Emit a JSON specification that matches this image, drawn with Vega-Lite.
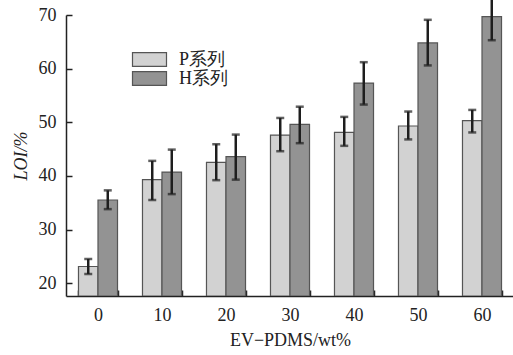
{
  "$schema": "https://vega.github.io/schema/vega-lite/v6.json",
  "autosize": {"type": "none"},
  "padding": {"left": 66, "top": 15, "right": 0, "bottom": 59},
  "width": 448,
  "height": 281,
  "background": "white",
  "config": {
    "view": {"stroke": null},
    "font": "Liberation Serif",
    "axis": {"labelFont": "Liberation Serif", "titleFont": "Liberation Serif", "labelColor": "#222", "titleColor": "#222", "domainColor": "#222", "tickColor": "#222", "domainWidth": 1.5, "tickWidth": 1.5, "grid": false}
  },
  "data": {
    "values": [
      {"c": "0", "s": "P系列", "v": 23.1, "lo": 21.7, "hi": 24.5},
      {"c": "0", "s": "H系列", "v": 35.5, "lo": 33.8, "hi": 37.3},
      {"c": "10", "s": "P系列", "v": 39.3, "lo": 35.5, "hi": 42.8},
      {"c": "10", "s": "H系列", "v": 40.7, "lo": 36.6, "hi": 44.9},
      {"c": "20", "s": "P系列", "v": 42.5, "lo": 39.2, "hi": 45.9},
      {"c": "20", "s": "H系列", "v": 43.6, "lo": 39.3, "hi": 47.7},
      {"c": "30", "s": "P系列", "v": 47.6, "lo": 44.6, "hi": 50.8},
      {"c": "30", "s": "H系列", "v": 49.6, "lo": 46.1, "hi": 52.9},
      {"c": "40", "s": "P系列", "v": 48.1, "lo": 45.6, "hi": 51.0},
      {"c": "40", "s": "H系列", "v": 57.3, "lo": 53.3, "hi": 61.2},
      {"c": "50", "s": "P系列", "v": 49.3, "lo": 46.8, "hi": 52.0},
      {"c": "50", "s": "H系列", "v": 64.8, "lo": 60.6, "hi": 69.1},
      {"c": "60", "s": "P系列", "v": 50.3, "lo": 48.1, "hi": 52.3},
      {"c": "60", "s": "H系列", "v": 69.7, "lo": 65.3, "hi": 74.1}
    ]
  },
  "encoding": {
    "x": {
      "field": "c", "type": "nominal", "sort": ["0", "10", "20", "30", "40", "50", "60"],
      "scale": {"paddingInner": 0.39, "paddingOuter": 0.195},
      "axis": {"title": "EV−PDMS/wt%", "labelAngle": 0, "labelFontSize": 18, "titleFontSize": 18, "titleFontWeight": "normal", "tickBand": "extent", "tickSize": -6, "labelPadding": 16, "titlePadding": 7}
    },
    "xOffset": {"field": "s", "type": "nominal", "sort": ["P系列", "H系列"], "scale": {"paddingInner": 0, "paddingOuter": 0}}
  },
  "layer": [
    {
      "mark": {"type": "bar", "stroke": "#555", "strokeWidth": 1.2, "clip": true},
      "encoding": {
        "y": {
          "field": "v", "type": "quantitative",
          "scale": {"domain": [17.6, 70], "nice": false, "zero": false},
          "axis": {"title": "LOI/%", "values": [20, 30, 40, 50, 60, 70], "labelFontSize": 18, "titleFontSize": 18, "titleFontWeight": "normal", "titleFontStyle": "italic", "tickSize": -6, "labelPadding": 16, "titlePadding": 8}
        },
        "y2": {"datum": 17.6},
        "fill": {
          "field": "s", "type": "nominal", "sort": ["P系列", "H系列"],
          "scale": {"domain": ["P系列", "H系列"], "range": ["#d2d2d2", "#939393"]},
          "legend": {
            "title": null, "orient": "none", "legendX": 74, "legendY": 35,
            "symbolType": "M-2,-0.8H2V0.8H-2Z", "symbolSize": 289, "symbolStrokeColor": "#555", "symbolStrokeWidth": 1.2,
            "labelFont": "Liberation Serif", "labelFontSize": 18, "labelColor": "#222", "rowPadding": 0, "labelOffset": 20, "padding": 0
          }
        }
      }
    },
    {
      "mark": {"type": "rule", "color": "#1e1e1e", "strokeWidth": 2.5},
      "encoding": {"y": {"field": "lo", "type": "quantitative"}, "y2": {"field": "hi"}}
    },
    {
      "mark": {"type": "tick", "color": "#1e1e1e", "thickness": 2.5, "size": 8},
      "encoding": {"y": {"field": "lo", "type": "quantitative"}}
    },
    {
      "mark": {"type": "tick", "color": "#1e1e1e", "thickness": 2.5, "size": 8},
      "encoding": {"y": {"field": "hi", "type": "quantitative"}}
    }
  ]
}
